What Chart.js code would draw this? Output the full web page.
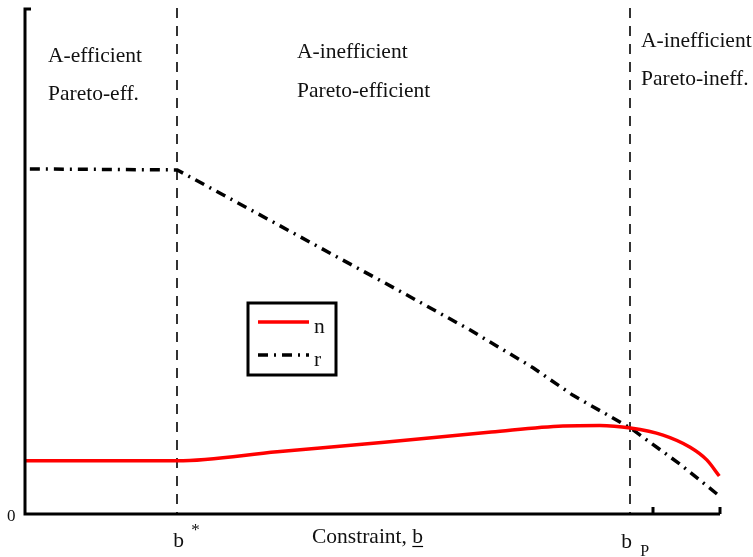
<!DOCTYPE html>
<html>
<head>
<meta charset="utf-8">
<script src="https://cdn.jsdelivr.net/npm/chart.js@4.4.0/dist/chart.umd.min.js"></script>
<style>
  html, body { margin: 0; padding: 0; background: #fff; }
</style>
</head>
<body>
<canvas id="chart" width="753" height="557"></canvas>
<script>
// curve n (red, solid)
const nX = [0, 2.19, 3.63, 5.17, 6.71, 7.74, 8.27, 8.71, 9.18, 9.57, 9.81, 9.99];
const nY = [1.05, 1.05, 1.23, 1.42, 1.62, 1.74, 1.75, 1.70, 1.56, 1.32, 1.07, 0.75];
// curve r (black, dash-dot)
const rX = [0.07, 2.19, 3.57, 4.49, 5.44, 6.40, 7.31, 7.88, 8.71, 9.42, 9.97];
const rY = [6.82, 6.80, 5.77, 5.08, 4.37, 3.64, 2.89, 2.35, 1.70, 0.99, 0.38];
// vertical markers b* and b_P, extra axis ticks
const markers = [2.19, 8.71];
const axisTicks = [9.04, 10];
const regionTop = ["A-efficient", "A-inefficient", "A-inefficient"];
const regionBottom = ["Pareto-eff.", "Pareto-efficient", "Pareto-ineff."];

const toPoints = (xs, ys) => xs.map((v, i) => ({ x: v, y: ys[i] }));

const overlay = {
  id: "overlay",
  beforeDatasetsDraw(chart) {
    const { ctx, chartArea: a, scales: { x } } = chart;
    ctx.save();
    ctx.strokeStyle = "#000";
    ctx.lineWidth = 1.6;
    ctx.setLineDash([10, 8]);
    markers.forEach((v) => {
      const px = Math.round(x.getPixelForValue(v));
      ctx.beginPath();
      ctx.moveTo(px, a.top);
      ctx.lineTo(px, a.bottom);
      ctx.stroke();
    });
    ctx.restore();
  },
  afterDatasetsDraw(chart) {
    const { ctx, chartArea: a, scales: { x } } = chart;
    ctx.save();
    ctx.strokeStyle = "#000";
    ctx.setLineDash([]);
    ctx.lineWidth = 3;
    // axes
    ctx.beginPath();
    ctx.moveTo(a.left + 6, a.top + 1);
    ctx.lineTo(a.left, a.top + 1);
    ctx.lineTo(a.left, a.bottom);
    ctx.lineTo(a.right, a.bottom);
    ctx.stroke();
    axisTicks.forEach((v) => {
      const px = Math.round(x.getPixelForValue(v));
      ctx.beginPath();
      ctx.moveTo(px, a.bottom);
      ctx.lineTo(px, a.bottom - 7);
      ctx.stroke();
    });

    // region labels
    const big = '21.5px "Liberation Serif"';
    ctx.fillStyle = "#111";
    ctx.font = big;
    ctx.textAlign = "left";
    ctx.textBaseline = "alphabetic";
    const regionX = [48, 297, 641];
    const regionY1 = [62, 58, 47];
    const regionY2 = [100, 97, 85];
    regionTop.forEach((t, i) => ctx.fillText(t, regionX[i], regionY1[i]));
    regionBottom.forEach((t, i) => ctx.fillText(t, regionX[i], regionY2[i]));

    // axis labels
    const bs = x.getPixelForValue(markers[0]);
    const bp = x.getPixelForValue(markers[1]);
    ctx.fillText("b", bs - 4, 547);
    ctx.fillText("b", bp - 9, 548);
    ctx.font = '17px "Liberation Serif"';
    ctx.fillText("*", bs + 14, 535);
    ctx.fillText("0", 7, 521);
    ctx.font = '16px "Liberation Serif"';
    ctx.fillText("P", bp + 10, 556);
    ctx.font = big;
    const lead = "Constraint, ";
    ctx.fillText(lead, 312, 543);
    const bx = 312 + ctx.measureText(lead).width;
    ctx.fillText("b", bx, 543);
    const bw = ctx.measureText("b").width;
    ctx.lineWidth = 1.2;
    ctx.beginPath();
    ctx.moveTo(bx, 546.5);
    ctx.lineTo(bx + bw, 546.5);
    ctx.stroke();

    // legend box
    ctx.lineWidth = 3;
    ctx.strokeRect(248, 303, 88, 72);
    const ds = chart.data.datasets;
    const rows = [322, 355];
    const textY = [333, 366];
    ds.forEach((d, i) => {
      ctx.save();
      ctx.strokeStyle = d.borderColor;
      ctx.lineWidth = d.borderWidth;
      ctx.setLineDash(d.borderDash || []);
      ctx.beginPath();
      ctx.moveTo(258, rows[i]);
      ctx.lineTo(309, rows[i]);
      ctx.stroke();
      ctx.restore();
      ctx.font = big;
      ctx.fillText(d.label, 314, textY[i]);
    });
    ctx.restore();
  }
};

new Chart(document.getElementById("chart"), {
  type: "line",
  data: {
    datasets: [
      {
        label: "n",
        data: toPoints(nX, nY),
        borderColor: "#ff0000",
        borderWidth: 3.5,
        pointRadius: 0,
        cubicInterpolationMode: "monotone",
        fill: false,
        clip: false
      },
      {
        label: "r",
        data: toPoints(rX, rY),
        borderColor: "#000000",
        borderWidth: 3.5,
        borderDash: [10, 6, 2, 6],
        pointRadius: 0,
        tension: 0,
        fill: false,
        clip: false
      }
    ]
  },
  options: {
    responsive: false,
    animation: false,
    layout: { padding: { left: 25, right: 33, top: 8, bottom: 43 } },
    plugins: { legend: { display: false }, tooltip: { enabled: false } },
    scales: {
      x: { type: "linear", min: 0, max: 10, display: false },
      y: { type: "linear", min: 0, max: 10, display: false }
    }
  },
  plugins: [overlay]
});
</script>
</body>
</html>
